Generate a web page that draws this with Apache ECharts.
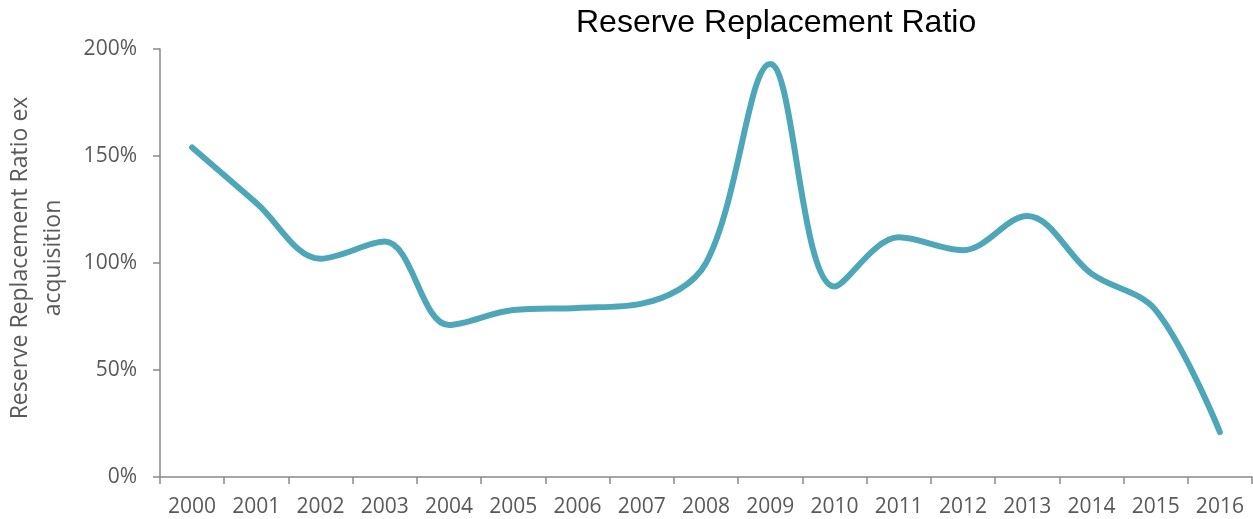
<!DOCTYPE html>
<html>
<head>
<meta charset="utf-8">
<script src="https://cdn.jsdelivr.net/npm/echarts@6/dist/echarts.min.js"></script>
<style>
html,body{margin:0;padding:0;background:#fff;}
#chart{width:1253px;height:519px;}
</style>
</head>
<body>
<div id="chart"></div>
<script>
const years = ['2000','2001','2002','2003','2004','2005','2006','2007','2008','2009','2010','2011','2012','2013','2014','2015','2016'];
const ratioValues = [154, 128, 102, 110, 71, 78, 79, 81, 100, 193, 89, 112, 106, 122, 95, 78, 21];
const yTicks = [0, 50, 100, 150, 200];

const chart = echarts.init(document.getElementById('chart'), null, {renderer: 'canvas'});
const axisGray = '#898989';
const labelGray = '#595959';
const fontFam = '"Open Sans", sans-serif';

chart.setOption({
  animation: false,
  backgroundColor: '#ffffff',
  title: {
    text: 'Reserve Replacement Ratio',
    left: 571,
    top: 2,
    textStyle: {fontFamily: 'Liberation Sans, Arial, sans-serif', fontSize: 32, fontWeight: 'normal', color: '#000000'}
  },
  grid: {left: 160, right: 1, top: 49, bottom: 42, containLabel: false, outerBoundsMode: 'none'},
  xAxis: {
    type: 'category',
    data: years,
    boundaryGap: true,
    axisLine: {lineStyle: {color: axisGray, width: 1.5}},
    axisTick: {show: true, length: 7, lineStyle: {color: axisGray, width: 1.5}},
    axisLabel: {color: labelGray, fontFamily: fontFam, fontSize: 21, margin: 20},
    splitLine: {show: false}
  },
  yAxis: {
    type: 'value',
    min: yTicks[0],
    max: yTicks[yTicks.length - 1],
    interval: 50,
    name: 'Reserve Replacement Ratio ex\nacquisition',
    nameLocation: 'middle',
    nameGap: 90,
    nameTextStyle: {color: labelGray, fontFamily: fontFam, fontSize: 23, lineHeight: 33, padding: [0, 0, 0, 10]},
    axisLine: {show: true, lineStyle: {color: axisGray, width: 1.5}},
    axisTick: {show: true, length: 7, lineStyle: {color: axisGray, width: 1.5}},
    axisLabel: {color: labelGray, fontFamily: fontFam, fontSize: 21, margin: 23, formatter: v => v + '%'},
    splitLine: {show: false}
  },
  series: [{
    type: 'line',
    data: ratioValues,
    smooth: 0.35,
    symbol: 'none',
    lineStyle: {color: '#4ea7b9', width: 6, cap: 'round', join: 'round'}
  }]
});
</script>
</body>
</html>
